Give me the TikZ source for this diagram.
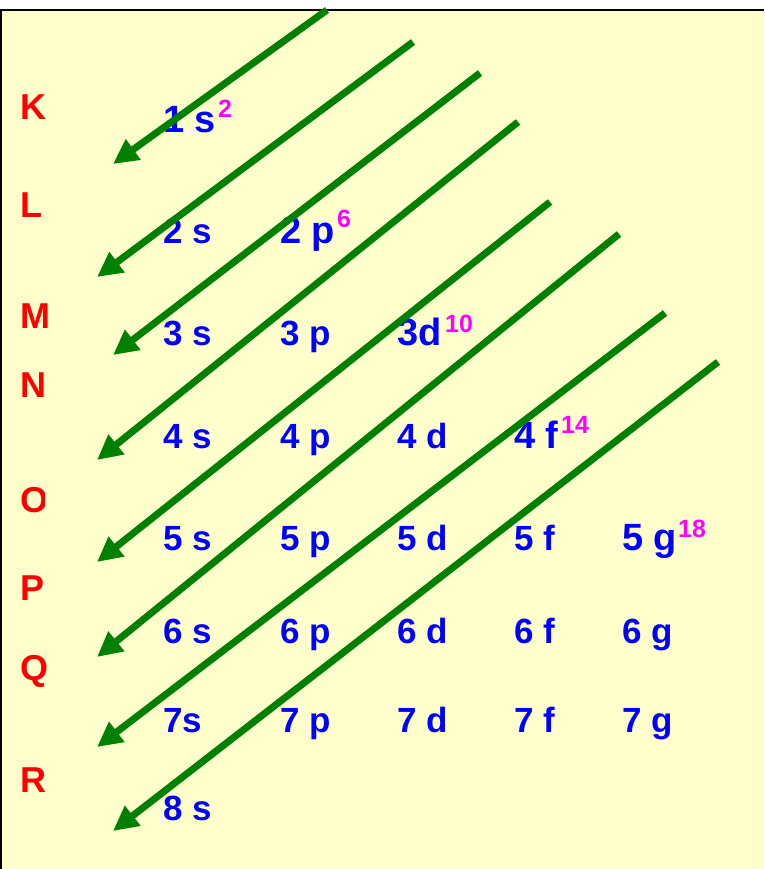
\documentclass[tikz,border=0pt]{standalone}
\usepackage{fontspec}
\setmainfont{Liberation Sans}
\usetikzlibrary{arrows.meta}

\definecolor{paper}{RGB}{255,255,204}
\definecolor{arrowgreen}{RGB}{0,128,0}
\definecolor{shellred}{RGB}{255,0,0}
\definecolor{orbblue}{RGB}{0,0,255}
\definecolor{supmag}{RGB}{255,0,255}

\begin{document}
\begin{tikzpicture}[x=1pt, y=-1pt,
  shell/.style={anchor=base west, inner sep=0pt, text=shellred, font=\fontsize{36}{36}\selectfont\bfseries},
  orb/.style={anchor=base west, inner sep=0pt, text=orbblue, font=\fontsize{35}{35}\selectfont\bfseries},
  orbbig/.style={orb, font=\fontsize{38}{38}\selectfont\bfseries},
  cnt/.style={anchor=base west, inner sep=0pt, text=supmag, font=\fontsize{25}{25}\selectfont\bfseries},
  diag/.style={draw=arrowgreen, line width=7pt, -{Triangle[length=25pt, width=24pt]}}]

  %% ==== background and frame ====
  \fill[paper] (0,10) rectangle (764,869);
  \draw[line width=2pt] (1,869) -- (1,10) -- (764,10);

  %% ==== shell letters ====
  \node[shell] (K) at (20,120) {K};
  \node[shell] (L) at (20,217) {L};
  \node[shell] (M) at (20,328) {M};
  \node[shell] (N) at (20,397) {N};
  \begin{scope}
    \clip (0,470) rectangle (44,530);
    \node[shell] (O) at (20,512) {O};
  \end{scope}
  \node[shell] (P) at (20,600) {P};
  \node[shell] (Q) at (20,680) {Q};
  \node[shell] (R) at (20,792) {R};

  %% ==== orbitals ====
  \node[orbbig] (o1s) at (163,133) {1 s};
  \node[orb] (o2s) at (163,243) {2 s};
  \node[orbbig] (o2p) at (280,243) {2 p};
  \node[orb] (o3s) at (163,345) {3 s};
  \node[orb] (o3p) at (280,345) {3 p};
  \node[orbbig] (o3d) at (397,345) {3d};
  \node[orb] (o4s) at (163,448) {4 s};
  \node[orb] (o4p) at (280,448) {4 p};
  \node[orb] (o4d) at (397,448) {4 d};
  \node[orbbig] (o4f) at (514,448) {4 f};
  \node[orb] (o5s) at (163,550) {5 s};
  \node[orb] (o5p) at (280,550) {5 p};
  \node[orb] (o5d) at (397,550) {5 d};
  \node[orb] (o5f) at (514,550) {5 f};
  \node[orbbig] (o5g) at (622,550) {5 g};
  \node[orb] (o6s) at (163,643) {6 s};
  \node[orb] (o6p) at (280,643) {6 p};
  \node[orb] (o6d) at (397,643) {6 d};
  \node[orb] (o6f) at (514,643) {6 f};
  \node[orb] (o6g) at (622,643) {6 g};
  \node[orb] (o7s) at (163,732) {7s};
  \node[orb] (o7p) at (280,732) {7 p};
  \node[orb] (o7d) at (397,732) {7 d};
  \node[orb] (o7f) at (514,732) {7 f};
  \node[orb] (o7g) at (622,732) {7 g};
  \node[orb] (o8s) at (163,820) {8 s};

  %% ==== electron counts ====
  \node[cnt] (c1s) at (218,118) {2};
  \node[cnt] (c2p) at (337,227) {6};
  \node[cnt] (c3d) at (445,332) {10};
  \node[cnt] (c4f) at (561,433) {14};
  \node[cnt] (c5g) at (678,537) {18};

  %% ==== diagonal arrows ====
  \coordinate (a1s) at (327,10);  \coordinate (a1e) at (113,164);
  \coordinate (a2s) at (413,42);  \coordinate (a2e) at (97,277);
  \coordinate (a3s) at (480,73);  \coordinate (a3e) at (113,355);
  \coordinate (a4s) at (518,122); \coordinate (a4e) at (97,460);
  \coordinate (a5s) at (550,202); \coordinate (a5e) at (97,562);
  \coordinate (a6s) at (619,234); \coordinate (a6e) at (97,657);
  \coordinate (a7s) at (665,313); \coordinate (a7e) at (97,747);
  \coordinate (a8s) at (718,362); \coordinate (a8e) at (113,831);
  \draw[diag] (a1s) -- (a1e);
  \draw[diag] (a2s) -- (a2e);
  \draw[diag] (a3s) -- (a3e);
  \draw[diag] (a4s) -- (a4e);
  \draw[diag] (a5s) -- (a5e);
  \draw[diag] (a6s) -- (a6e);
  \draw[diag] (a7s) -- (a7e);
  \draw[diag] (a8s) -- (a8e);

  \pgfresetboundingbox
  \path[use as bounding box] (0,0) rectangle (764,869);
\end{tikzpicture}
\end{document}
